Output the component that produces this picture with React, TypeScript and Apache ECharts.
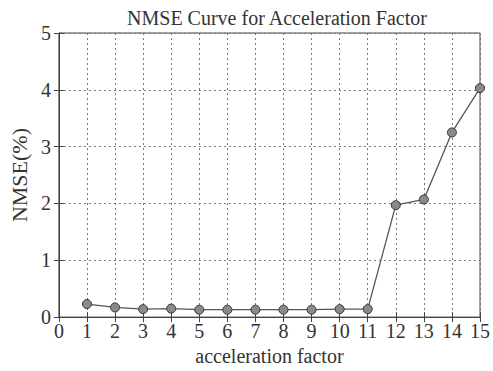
import React, { useEffect, useRef } from "react";
import * as echarts from "echarts";

const factors = [1, 2, 3, 4, 5, 6, 7, 8, 9, 10, 11, 12, 13, 14, 15];
const nmse = [0.23, 0.17, 0.14, 0.15, 0.13, 0.13, 0.13, 0.13, 0.13, 0.14, 0.14, 1.97, 2.07, 3.25, 4.03];
const titleText = "NMSE Curve for Acceleration Factor";
const xName = "acceleration factor";
const yName = "NMSE(%)";

const FONT = "'Liberation Serif', 'DejaVu Serif', serif";

export default function App() {
  const ref = useRef<HTMLDivElement>(null);
  useEffect(() => {
    if (!ref.current) return;
    const chart = echarts.init(ref.current, null, { renderer: "svg" });
    const gridLine = { show: true, lineStyle: { type: [2, 3] as any, color: "#777", width: 1 } };
    chart.setOption({
      animation: false,
      backgroundColor: "#fff",
      title: {
        text: titleText,
        left: 272,
        textAlign: "center",
        top: 3,
        textStyle: { fontFamily: FONT, fontSize: 20, fontWeight: "normal", color: "#333" },
      },
      grid: { left: 58, right: 12, top: 33, bottom: 46, show: true, borderColor: "#444", borderWidth: 1, backgroundColor: "transparent" },
      xAxis: [
        {
          type: "value",
          min: 0,
          max: 15,
          interval: 1,
          name: xName,
          nameLocation: "middle",
          nameGap: 26,
          nameTextStyle: { fontFamily: FONT, fontSize: 20, color: "#333" },
          axisLine: { show: true, lineStyle: { color: "#444" } },
          axisTick: { show: true, inside: true, length: 5, lineStyle: { color: "#444" } },
          axisLabel: { fontFamily: FONT, fontSize: 20, color: "#333", margin: 4 },
          splitLine: gridLine,
        },
        {
          type: "value",
          position: "top",
          min: 0,
          max: 15,
          interval: 1,
          axisLine: { show: true, lineStyle: { color: "#444" } },
          axisTick: { show: true, inside: true, length: 5, lineStyle: { color: "#444" } },
          axisLabel: { show: false },
          splitLine: { show: false },
        },
      ],
      yAxis: [
        {
          type: "value",
          min: 0,
          max: 5,
          interval: 1,
          name: yName,
          nameLocation: "middle",
          nameGap: 24,
          nameTextStyle: { fontFamily: FONT, fontSize: 22, color: "#333" },
          axisLine: { show: true, lineStyle: { color: "#444" } },
          axisTick: { show: true, inside: true, length: 5, lineStyle: { color: "#444" } },
          axisLabel: { fontFamily: FONT, fontSize: 20, color: "#333", margin: 8 },
          splitLine: gridLine,
        },
        {
          type: "value",
          position: "right",
          min: 0,
          max: 5,
          interval: 1,
          axisLine: { show: true, lineStyle: { color: "#444" } },
          axisTick: { show: true, inside: true, length: 5, lineStyle: { color: "#444" } },
          axisLabel: { show: false },
          splitLine: { show: false },
        },
      ],
      series: [
        {
          type: "line",
          data: factors.map((f, i) => [f, nmse[i]]),
          symbol: "circle",
          symbolSize: 9,
          lineStyle: { color: "#555", width: 1.3 },
          itemStyle: { color: "#8a8a8a", borderColor: "#333", borderWidth: 1 },
        },
      ],
    });
    return () => chart.dispose();
  }, []);
  return <div ref={ref} style={{ width: 493, height: 371, position: "absolute", left: 0, top: 0 }} />;
}
